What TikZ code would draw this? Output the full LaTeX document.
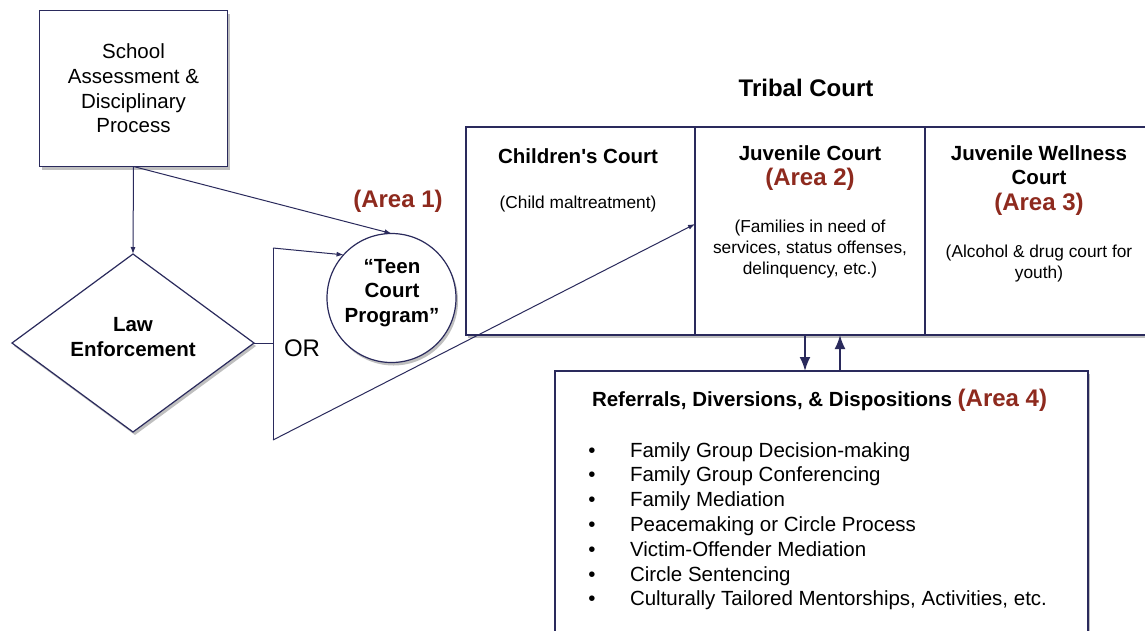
\documentclass[tikz,border=0pt]{standalone}
\usepackage{fontspec}
\setmainfont{Liberation Sans}[Ligatures=TeXOff]
\usetikzlibrary{arrows.meta,shapes.geometric,shadows,calc}
\definecolor{navy}{RGB}{42,42,92}
\definecolor{areared}{RGB}{142,42,30}
\newcommand{\fmain}{\fontsize{20.5}{24.7}\selectfont}
\newcommand{\fsmall}{\fontsize{17.3}{21}\selectfont}
\newcommand{\fbig}{\fontsize{24}{26}\selectfont}
\begin{document}
\begin{tikzpicture}[x=1pt,y=-1pt,
  every node/.style={inner sep=0pt,outer sep=0pt},
  shade/.style={drop shadow={shadow xshift=2pt,shadow yshift=-3pt,opacity=0.25,fill=black}},
  box/.style={draw=navy,line width=1.2pt,fill=white},
  conn/.style={draw=navy,line width=1pt},
  arr/.style={conn,-{Latex[length=7pt,width=5pt]}},
  bigarr/.style={draw=navy,line width=2pt,-{Latex[length=14pt,width=11pt]}},
  txt/.style={align=center,font=\fmain},
  btxt/.style={align=center,font=\fmain\bfseries},
  stxt/.style={align=center,font=\fsmall},
  area/.style={font=\fbig\bfseries,text=areared}]
\useasboundingbox (0,0) rectangle (1145,630);
\clip (0,0) rectangle (1145,630);
\fill[white] (0,0) rectangle (1145,630);

% school
\node[box,shade,minimum width=188,minimum height=156,txt] (school) at (133.5,88.5)
  {School\\Assessment \&\\Disciplinary\\Process};

% law enforcement
\node[diamond,box,shade,minimum width=242,minimum height=178] (law) at (133,343) {};
\node[btxt] (lawt) at (133,337) {Law\\Enforcement};

% teen court
\node[circle,box,shade,minimum size=129] (teen) at (391.5,298) {};
\node[btxt] (teent) at (392,293) {“Teen\\Court\\Program”};
\node[area] (a1) at (398,201) {(Area 1)};

% tribal court
\node[font=\fbig\bfseries] (tribal) at (806,88) {Tribal Court};
\node[box,shade,minimum width=690,minimum height=208] (tbox) at (811,231) {};
\node[box,minimum width=229,minimum height=208] (cc) at (580.5,231) {};
\node[box,minimum width=230,minimum height=208] (jc) at (810,231) {};
\node[box,minimum width=231,minimum height=208] (wc) at (1040.5,231) {};

\node[btxt] (cct) at (578,156) {Children's Court};
\node[stxt] (ccd) at (578,204) {(Child maltreatment)};

\node[btxt] (jct) at (810,153) {Juvenile Court};
\node[area] (a2) at (810,179) {(Area 2)};
\node[stxt] (jcd) at (810,249) {(Families in need of\\services, status offenses,\\delinquency, etc.)};

\node[align=center,font=\fontsize{20.5}{24}\selectfont\bfseries] (wct) at (1039,165) {Juvenile Wellness\\Court};
\node[area] (a3) at (1039,204) {(Area 3)};
\node[stxt] (wcd) at (1039,263.5) {(Alcohol \& drug court for\\youth)};

% referrals box
\node[box,shade,minimum width=533,minimum height=290] (ref) at (821.5,516) {};
\node[anchor=base west,font=\fmain\bfseries] (refh) at (592,406)
  {Referrals, Diversions, \& Dispositions \textcolor{areared}{\fbig(Area 4)}};
\foreach \t [count=\i] in {Family Group Decision-making,Family Group Conferencing,Family Mediation,Peacemaking or Circle Process,Victim-Offender Mediation,Circle Sentencing,{Culturally Tailored Mentorships, Activities, etc.}}{
  \node[anchor=base,font=\fmain] (bul\i) at (592,{457+24.8*(\i-1)}) {\textbullet};
  \node[anchor=base west,font=\fmain] (item\i) at (630,{457+24.8*(\i-1)}) {\t};
}

% connectors
\coordinate (orj) at (273,343);
\coordinate (brt) at (273,248);
\coordinate (brb) at (273,440);
\coordinate (jin) at (695,224);
\draw[arr] (school.south) -- (law.north);
\draw[arr] (school.south) -- (teen.north);
\draw[conn] (law.east) -- (orj);
\draw[conn] (brt) -- (brb);
\draw[arr] (brt) -- (teen.138);
\draw[arr] (brb) -- (jin);
\node[font=\fbig] (or) at (302,348) {OR};

\draw[bigarr] ([xshift=-5pt]jc.south) -- ([xshift=-5pt]jc.south |- ref.north);
\draw[bigarr] ([xshift=30pt]jc.south |- ref.north) -- ([xshift=30pt]jc.south);
\end{tikzpicture}
\end{document}
